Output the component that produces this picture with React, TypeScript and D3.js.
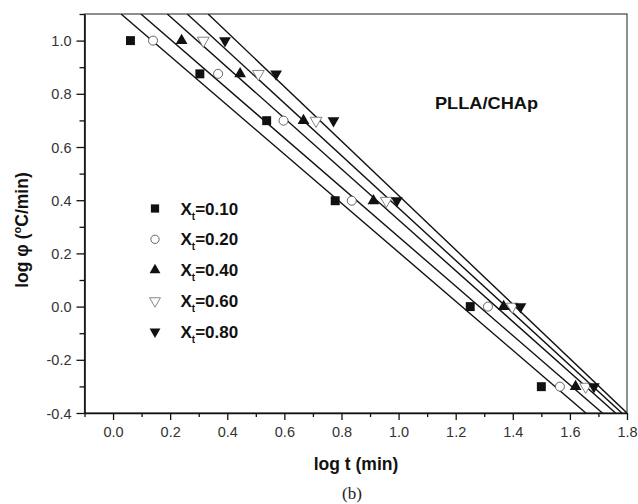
import React from "react";
import * as d3 from "d3";

// log phi values shared by every series (phi = 10, 7.5, 5, 2.5, 1, 0.5 °C/min)
const logPhi = [1.0, 0.875, 0.699, 0.398, 0.0, -0.301];

// log t for each relative crystallinity
const xt10 = [0.061, 0.304, 0.538, 0.778, 1.251, 1.5];
const xt20 = [0.14, 0.368, 0.597, 0.836, 1.313, 1.565];
const xt40 = [0.24, 0.445, 0.667, 0.912, 1.368, 1.62];
const xt60 = [0.316, 0.509, 0.711, 0.957, 1.398, 1.655];
const xt80 = [0.392, 0.571, 0.772, 0.994, 1.427, 1.684];

const seriesLabels = ["0.10", "0.20", "0.40", "0.60", "0.80"];
const xTicks = [0.0, 0.2, 0.4, 0.6, 0.8, 1.0, 1.2, 1.4, 1.6, 1.8];
const yTicks = [-0.4, -0.2, 0.0, 0.2, 0.4, 0.6, 0.8, 1.0];

const W = 638;
const H = 504;

const fmt = (v: number) => v.toFixed(1).replace("-0.0", "0.0");

const App = () => {
  const svgRef = React.useRef<SVGSVGElement>(null);

  React.useEffect(() => {
    const svg = d3.select(svgRef.current);
    svg.selectAll("*").remove();

    const margin = { left: 84.5, top: 14, right: 11, bottom: 91 };
    const x = d3.scaleLinear().domain([-0.1, 1.8]).range([margin.left, W - margin.right]);
    const y = d3.scaleLinear().domain([-0.4, 1.1]).range([H - margin.bottom, margin.top]);

    const series = [xt10, xt20, xt40, xt60, xt80].map((xs, i) => ({
      label: seriesLabels[i],
      points: xs.map((v, j) => [v, logPhi[j]] as [number, number]),
    }));

    const font = "Arial, 'Liberation Sans', sans-serif";

    svg
      .append("defs")
      .append("clipPath")
      .attr("id", "plotClip")
      .append("rect")
      .attr("x", x(-0.1))
      .attr("y", y(1.1))
      .attr("width", x(1.8) - x(-0.1))
      .attr("height", y(-0.4) - y(1.1));

    // frame
    svg
      .append("rect")
      .attr("x", x(-0.1))
      .attr("y", y(1.1))
      .attr("width", x(1.8) - x(-0.1))
      .attr("height", y(-0.4) - y(1.1))
      .attr("fill", "none")
      .attr("stroke", "#444")
      .attr("stroke-width", 1.2);

    // x axis
    const xAxis = svg.append("g").attr("transform", `translate(0,${y(-0.4)})`);
    xAxis
      .call(
        d3
          .axisBottom(x)
          .tickValues(d3.range(-0.1, 1.85, 0.1).map((v) => +v.toFixed(2)))
          .tickSize(0)
          .tickFormat(() => "")
      )
      .select(".domain")
      .attr("stroke", "#111")
      .attr("stroke-width", 1.6);
    xAxis
      .selectAll(".tick line")
      .attr("stroke", "#111")
      .attr("stroke-width", 1.3)
      .attr("y2", (d: any) => (Math.round(d * 10) % 2 === 0 ? 7 : 4));
    xAxis
      .selectAll(".tick")
      .filter((d: any) => xTicks.some((t) => Math.abs(t - d) < 1e-6))
      .select("text")
      .text((d: any) => fmt(d))
      .attr("y", 24)
      .attr("dy", 0)
      .attr("fill", "#333")
      .attr("font-size", 14.5)
      .attr("font-family", font);

    // y axis
    const yAxis = svg.append("g").attr("transform", `translate(${x(-0.1)},0)`);
    yAxis
      .call(
        d3
          .axisLeft(y)
          .tickValues(d3.range(-0.4, 1.15, 0.1).map((v) => +v.toFixed(2)))
          .tickSize(0)
          .tickFormat(() => "")
      )
      .select(".domain")
      .attr("stroke", "#111")
      .attr("stroke-width", 1.6);
    yAxis
      .selectAll(".tick line")
      .attr("stroke", "#111")
      .attr("stroke-width", 1.3)
      .attr("x2", (d: any) => (Math.round(d * 10) % 2 === 0 ? -8 : -5));
    yAxis
      .selectAll(".tick")
      .filter((d: any) => yTicks.some((t) => Math.abs(t - d) < 1e-6))
      .select("text")
      .text((d: any) => fmt(d))
      .attr("x", -13)
      .attr("dy", "0.35em")
      .attr("fill", "#333")
      .attr("font-size", 14.5)
      .attr("font-family", font);
    svg.selectAll(".tick text").filter(function () {
      return d3.select(this).text() === "";
    }).remove();

    // fitted lines (least squares of each series)
    const lines = svg.append("g").attr("clip-path", "url(#plotClip)");
    series.forEach((s) => {
      const xs = s.points.map((p) => p[0]);
      const ys = s.points.map((p) => p[1]);
      const mx = d3.mean(xs)!;
      const my = d3.mean(ys)!;
      const slope =
        d3.sum(xs, (v, i) => (v - mx) * (ys[i] - my)) / d3.sum(xs, (v) => (v - mx) ** 2);
      const xAt = (yy: number) => mx + (yy - my) / slope;
      lines
        .append("line")
        .attr("x1", x(xAt(1.1)))
        .attr("y1", y(1.1))
        .attr("x2", x(xAt(-0.4)))
        .attr("y2", y(-0.4))
        .attr("stroke", "#111")
        .attr("stroke-width", 1.4);
    });

    // markers
    const markerDefs = [
      { type: d3.symbolSquare, size: 80, rot: 0, fill: "#111", stroke: "none" },
      { type: d3.symbolCircle, size: 64, rot: 0, fill: "white", stroke: "#555" },
      { type: d3.symbolTriangle, size: 60, rot: 0, fill: "#111", stroke: "none" },
      { type: d3.symbolTriangle, size: 60, rot: 180, fill: "white", stroke: "#777" },
      { type: d3.symbolTriangle, size: 60, rot: 180, fill: "#111", stroke: "none" },
    ];
    const drawMarker = (g: any, i: number, cx: number, cy: number, scale = 1) => {
      const m = markerDefs[i];
      g.append("path")
        .attr("d", d3.symbol().type(m.type).size(m.size * scale)())
        .attr("transform", `translate(${cx},${cy}) rotate(${m.rot})`)
        .attr("fill", m.fill)
        .attr("stroke", m.stroke)
        .attr("stroke-width", 0.9);
    };
    const marks = svg.append("g");
    series.forEach((s, i) => {
      s.points.forEach((p) => drawMarker(marks, i, x(p[0]), y(p[1])));
    });

    // legend
    const legend = svg.append("g");
    series.forEach((s, i) => {
      const cy = 208.5 + i * 30.8;
      drawMarker(legend, i, 155, cy, 0.85);
      const t = legend
        .append("text")
        .attr("x", 180.5)
        .attr("y", cy + 6)
        .attr("font-family", font)
        .attr("font-weight", "bold")
        .attr("font-size", 17)
        .attr("fill", "#111");
      t.append("tspan").text("X");
      t.append("tspan").attr("font-size", 10).attr("dy", 5).text("t");
      t.append("tspan").attr("dy", -5).text(`=${s.label}`);
    });

    // annotation
    svg
      .append("text")
      .attr("x", 435)
      .attr("y", 108.5)
      .attr("font-family", font)
      .attr("font-weight", "bold")
      .attr("font-size", 17)
      .attr("textLength", 103)
      .attr("lengthAdjust", "spacingAndGlyphs")
      .attr("fill", "#111")
      .text("PLLA/CHAp");

    // axis titles
    svg
      .append("text")
      .attr("x", 356)
      .attr("y", 470)
      .attr("text-anchor", "middle")
      .attr("font-family", font)
      .attr("font-weight", "bold")
      .attr("font-size", 17.5)
      .attr("fill", "#111")
      .text("log t (min)");

    const yt = svg
      .append("text")
      .attr("transform", `translate(28,230) rotate(-90)`)
      .attr("text-anchor", "middle")
      .attr("font-family", font)
      .attr("font-weight", "bold")
      .attr("font-size", 17.5)
      .attr("fill", "#111");
    yt.append("tspan").text("log φ (");
    yt.append("tspan").attr("font-size", 11).attr("dy", -7).text("o");
    yt.append("tspan").attr("dy", 7).text("C/min)");

    svg
      .append("text")
      .attr("x", 352)
      .attr("y", 499)
      .attr("text-anchor", "middle")
      .attr("font-family", "'Liberation Serif', 'Times New Roman', serif")
      .attr("font-size", 17)
      .attr("fill", "#222")
      .text("(b)");
  }, []);

  return (
    <svg
      ref={svgRef}
      width={W}
      height={H}
      style={{ position: "absolute", left: 0, top: 0, background: "white" }}
    />
  );
};

export default App;
